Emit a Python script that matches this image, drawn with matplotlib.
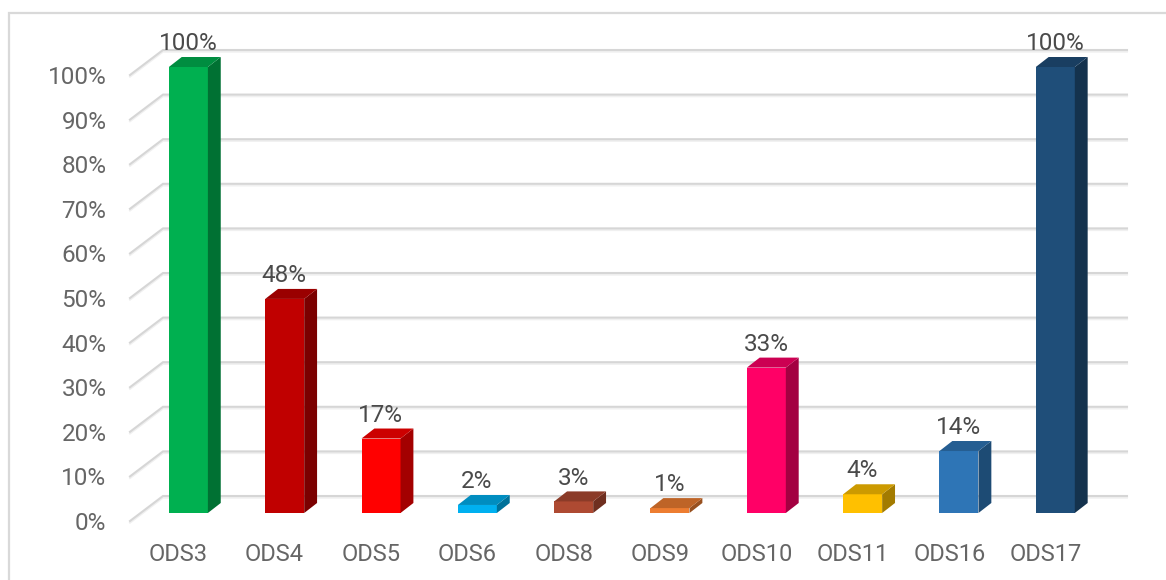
import matplotlib
matplotlib.use('Agg')
import matplotlib.pyplot as plt
import matplotlib.patheffects as pe
from matplotlib.colors import to_rgb
from matplotlib.lines import Line2D

# Data
categories = ['ODS3','ODS4','ODS5','ODS6','ODS8','ODS9','ODS10','ODS11','ODS16','ODS17']
values = [100, 48, 16.7, 1.8, 2.6, 1.1, 32.6, 4.2, 13.9, 100]
colors = ['#00B050','#C00000','#FF0000','#00B0F0','#AE4A32','#ED7D31','#FF0066','#FFC000','#2E75B6','#1F4E79']
yticks = list(range(0, 101, 10))

# Figure size in pixels, axes = front edge of the chart floor
W, H = 1166, 580
plt.rcParams['font.family'] = ['Roboto', 'DejaVu Sans']
fig = plt.figure(figsize=(W/100, H/100), dpi=100, facecolor='white')
ax = fig.add_axes([130/W, 1-521/H, 964/W, 446/H])
ax.set_xlim(-0.5, 9.5)
ax.set_ylim(0, 100)
ax.patch.set_visible(False)
for s in ax.spines.values():
    s.set_visible(False)

# 3D look: depth of the floor and of the bars, in axis units
floor_dx = 33/96.4
floor_dy = 25/4.46
bar_dx = 0.39*floor_dx
bar_dy = 0.4*floor_dy
bar_w = 39/96.4

shadow = [pe.SimpleLineShadow(offset=(0,-1.2), shadow_color='k', alpha=0.06), pe.Normal()]
for t in yticks:
    ax.plot([-0.5, -0.5+floor_dx, 9.5+floor_dx], [t, t+floor_dy, t+floor_dy], color='#d6d6d6',
            lw=1.5, clip_on=False, zorder=1, solid_joinstyle='miter', path_effects=shadow)

for i, (v, c) in enumerate(zip(values, colors)):
    x0 = i + 0.32*floor_dx - bar_w/2 - 0.007*i/9 - 0.004
    x1 = x0 + bar_w
    y0 = 0.32*floor_dy
    y1 = y0 + v
    rgb = to_rgb(c)
    top = tuple(k*0.8 for k in rgb)
    side = tuple(k*0.64 for k in rgb)
    ax.bar(x0 + bar_w/2, v, bar_w, bottom=y0, color=c, zorder=3, clip_on=False)
    ax.fill([x1, x1+bar_dx, x1+bar_dx, x1], [y0, y0+bar_dy, y1+bar_dy, y1], color=side, lw=0, zorder=3, clip_on=False)
    ax.fill([x0, x1, x1+bar_dx, x0+bar_dx], [y1, y1, y1+bar_dy, y1+bar_dy], color=top, lw=0, zorder=3, clip_on=False)
    ax.annotate(f'{v:.0f}%', (x0 + bar_w/2, y1), xytext=(-0.3, 16.8), textcoords='offset points',
                ha='center', va='center', fontsize=17.5, color='#4a4a4a', zorder=4, annotation_clip=False)

ax.set_xticks(range(len(categories)), categories)
ax.set_yticks(yticks, [f'{t}%' for t in yticks])
ax.tick_params(axis='x', length=0, pad=16, labelsize=17, labelcolor='#666666')
ax.tick_params(axis='y', length=0, pad=17, labelsize=17.5, labelcolor='#666666')

# Chart frame, only top and left are inside the crop
fig.add_artist(Line2D([9/W, 9/W, 1], [0, 1-13/H, 1-13/H], color='#d9d9d9', lw=1.6, solid_joinstyle='miter'))

fig.savefig('out.png', dpi=100)
